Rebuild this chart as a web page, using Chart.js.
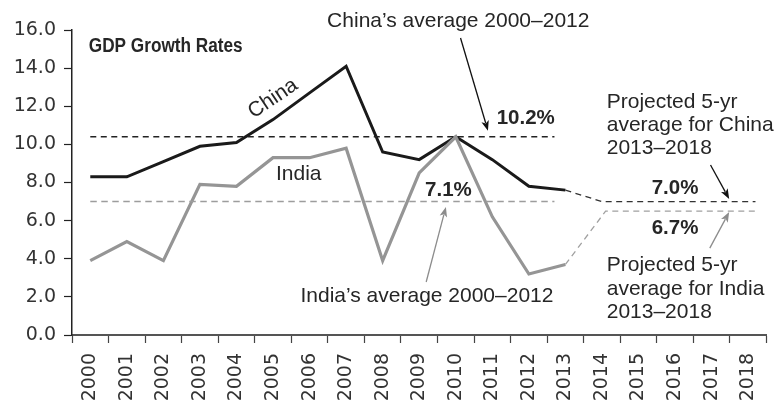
<!DOCTYPE html>
<html>
<head>
<meta charset="utf-8">
<script src="https://cdn.jsdelivr.net/npm/chart.js@4/dist/chart.umd.min.js"></script>
<style>
html,body{margin:0;padding:0;background:#fff;}
#wrap{width:781px;height:406px;position:relative;}
</style>
</head>
<body>
<div id="wrap"><canvas id="c"></canvas></div>
<script>
// ---- data ----
const years = ['2000','2001','2002','2003','2004','2005','2006','2007','2008','2009','2010','2011','2012','2013','2014','2015','2016','2017','2018'];
const china = [8.3, 8.3, 9.1, 9.9, 10.1, 11.3, 12.7, 14.1, 9.6, 9.2, 10.4, 9.2, 7.8, 7.6, null, null, null, null, null];
const india = [3.9, 4.9, 3.9, 7.9, 7.8, 9.3, 9.3, 9.8, 3.9, 8.5, 10.4, 6.2, 3.2, 3.7, null, null, null, null, null];
// projection lines (x in category-index units)
const chinaProjX = [13, 14, 18.2];
const chinaProjY = [7.6, 7.0, 7.0];
const indiaProjX = [13, 14.1, 18.2];
const indiaProjY = [3.7, 6.5, 6.5];
// 2000-2012 averages as drawn
const avgX = [0, 12.7];
const chinaAvg = 10.4;
const indiaAvg = 7.0;
const yTicks = [0, 2, 4, 6, 8, 10, 12, 14, 16];

const pts = (xs, ys) => xs.map((x, i) => ({x: x, y: ys[i]}));

const FONT = '"Liberation Sans", Arial, sans-serif';

const annot = {
  id: 'annot',
  afterDraw(chart) {
    const ctx = chart.ctx;
    const xs = chart.scales.xl, ys = chart.scales.y;
    const X = v => xs.getPixelForValue(v), Y = v => ys.getPixelForValue(v);
    ctx.save();
    ctx.textBaseline = 'middle';
    ctx.textAlign = 'left';
    // title (condensed bold)
    ctx.save();
    ctx.translate(X(-0.04), Y(15.16));
    ctx.scale(0.86, 1);
    ctx.fillStyle = '#262626';
    ctx.font = 'bold 20px ' + FONT;
    ctx.fillText('GDP Growth Rates', 0, 0);
    ctx.restore();

    const txt = (s, x, y, bold, color) => {
      ctx.fillStyle = color || '#262626';
      ctx.font = (bold ? 'bold 20.5px ' : '21px ') + FONT;
      ctx.fillText(s, X(x), Y(y));
    };
    const arrow = (x1, y1, x2, y2, color) => {
      const a1 = X(x1), b1 = Y(y1), a2 = X(x2), b2 = Y(y2);
      const ang = Math.atan2(b2 - b1, a2 - a1);
      const L = 10, W = 3.8;
      ctx.strokeStyle = color; ctx.fillStyle = color; ctx.lineWidth = 1.3;
      ctx.beginPath();
      ctx.moveTo(a1, b1);
      ctx.lineTo(a2 - Math.cos(ang) * L * 0.8, b2 - Math.sin(ang) * L * 0.8);
      ctx.stroke();
      ctx.beginPath();
      ctx.moveTo(a2, b2);
      ctx.lineTo(a2 - Math.cos(ang) * L - Math.sin(ang) * W, b2 - Math.sin(ang) * L + Math.cos(ang) * W);
      ctx.lineTo(a2 - Math.cos(ang) * L * 0.75, b2 - Math.sin(ang) * L * 0.75);
      ctx.lineTo(a2 - Math.cos(ang) * L + Math.sin(ang) * W, b2 - Math.sin(ang) * L - Math.cos(ang) * W);
      ctx.closePath();
      ctx.fill();
    };

    txt('China\u2019s average 2000\u20132012', 6.48, 16.44);
    arrow(10.13, 15.58, 10.88, 10.72, '#111');
    txt('10.2%', 11.12, 11.39, true);

    // rotated "China" label
    ctx.save();
    ctx.translate(X(5.0), Y(12.4));
    ctx.rotate(-34 * Math.PI / 180);
    ctx.textAlign = 'center';
    ctx.fillStyle = '#262626';
    ctx.font = '21px ' + FONT;
    ctx.fillText('China', 0, 0);
    ctx.restore();

    txt('India', 5.08, 8.45);
    txt('7.1%', 9.16, 7.61, true);
    arrow(9.19, 2.78, 9.73, 6.72, '#8c8c8c');
    txt('India\u2019s average 2000\u20132012', 5.75, 2.01);

    txt('Projected 5-yr', 14.13, 12.19);
    txt('average for China', 14.13, 11.02);
    txt('2013\u20132018', 14.13, 9.80);
    arrow(16.97, 8.92, 17.48, 7.14, '#111');
    txt('7.0%', 15.36, 7.71, true);
    txt('6.7%', 15.36, 5.61, true);
    arrow(16.95, 4.56, 17.48, 6.45, '#8c8c8c');
    txt('Projected 5-yr', 14.13, 3.67);
    txt('average for India', 14.13, 2.41);
    txt('2013\u20132018', 14.13, 1.21);
    ctx.restore();
  }
};

new Chart(document.getElementById('c'), {
  type: 'line',
  data: {
    labels: years,
    datasets: [
      {label: 'China avg', data: pts(avgX, [chinaAvg, chinaAvg]), xAxisID: 'xl', borderColor: '#222', borderWidth: 1.3, borderDash: [6, 4.5], pointRadius: 0},
      {label: 'India avg', data: pts(avgX, [indiaAvg, indiaAvg]), xAxisID: 'xl', borderColor: '#9d9d9d', borderWidth: 1.5, borderDash: [6.5, 4.5], pointRadius: 0},
      {label: 'China proj', data: pts(chinaProjX, chinaProjY), xAxisID: 'xl', borderColor: '#333', borderWidth: 1.3, borderDash: [6, 4.5], pointRadius: 0},
      {label: 'India proj', data: pts(indiaProjX, indiaProjY), xAxisID: 'xl', borderColor: '#a0a0a0', borderWidth: 1.3, borderDash: [6, 4.5], pointRadius: 0},
      {label: 'India', data: india, xAxisID: 'x', borderColor: '#959595', borderWidth: 3.2, pointRadius: 0, tension: 0},
      {label: 'China', data: china, xAxisID: 'x', borderColor: '#1a1a1a', borderWidth: 3, pointRadius: 0, tension: 0}
    ]
  },
  options: {
    responsive: true,
    maintainAspectRatio: false,
    animation: false,
    layout: {padding: {top: 30, right: 1, left: 0, bottom: 0}},
    plugins: {legend: {display: false}, tooltip: {enabled: false}},
    scales: {
      x: {
        type: 'category',
        offset: true,
        grid: {offset: true, drawOnChartArea: false, drawTicks: true, tickLength: 8, color: '#444', tickWidth: 1.2},
        border: {display: true, color: '#555', width: 2},
        ticks: {minRotation: 90, maxRotation: 90, autoSkip: false, padding: 10, color: '#333', font: {family: '"DejaVu Sans", sans-serif', size: 19}},
        afterFit: s => { s.height = 71; }
      },
      xl: {
        type: 'linear', display: false, min: -0.5, max: 18.5, position: 'bottom'
      },
      y: {
        type: 'linear', min: 0, max: 16,
        afterBuildTicks: s => { s.ticks = yTicks.map(v => ({value: v})); },
        grid: {drawOnChartArea: false, drawTicks: true, tickLength: 8, color: '#222', tickWidth: 1.2},
        border: {display: true, color: '#222', width: 1.5},
        ticks: {padding: 8, color: '#333', font: {family: '"DejaVu Sans", sans-serif', size: 19}, callback: v => Number(v).toFixed(1)},
        afterFit: s => { s.width = 72; }
      }
    }
  },
  plugins: [annot]
});
</script>
</body>
</html>
